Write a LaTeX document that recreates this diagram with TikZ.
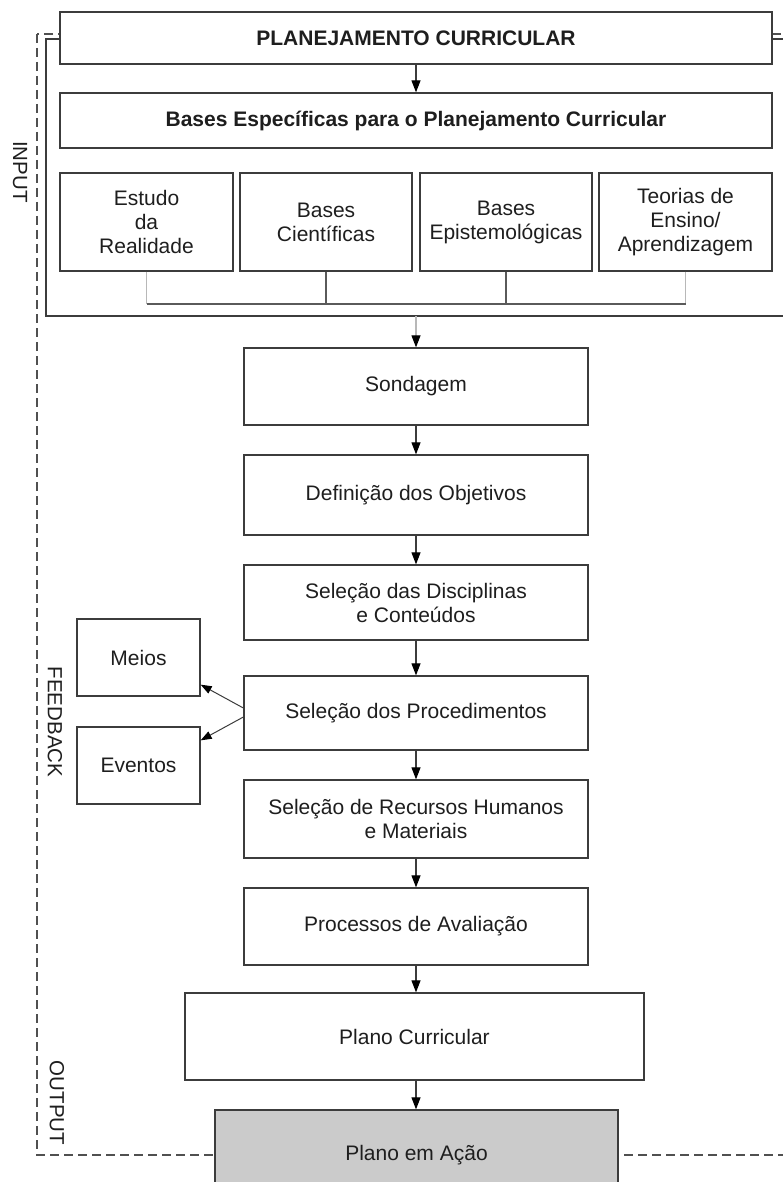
\documentclass[tikz,border=0pt]{standalone}
\usepackage{fontspec}
\setmainfont{Liberation Sans}
\usetikzlibrary{arrows.meta,calc}
\definecolor{edge}{HTML}{3C3C3C}
\definecolor{ink}{HTML}{1E1E1E}
\definecolor{lightline}{HTML}{B8B8B8}
\definecolor{midline}{HTML}{5A5A5A}
\definecolor{dashc}{HTML}{505050}
\definecolor{actfill}{HTML}{CBCBCB}

\begin{document}
\begin{tikzpicture}[x=1pt,y=-1pt,
  box/.style={draw=edge,line width=1.3pt,fill=white,align=center,text=ink,
    inner sep=0pt,font=\fontsize{21}{24}\selectfont},
  midbox/.style={box,minimum width=344pt},
  basebox/.style={box,minimum width=172pt,minimum height=98pt},
  sidebox/.style={box,minimum width=123pt,minimum height=77pt},
  flow/.style={draw=edge,line width=1.1pt,-{Triangle[width=9pt,length=12pt,color=black]}},
  faintflow/.style={draw=lightline,line width=1.1pt,-{Triangle[width=9pt,length=12pt,color=black]}},
  branch/.style={draw=edge,line width=1pt,-{Triangle[width=8pt,length=11pt,color=black]}},
  sidelabel/.style={rotate=-90,text=ink,inner sep=0pt,font=\fontsize{20.5}{24}\selectfont}]

\useasboundingbox (0,0) rectangle (783,1182);
\clip (0,0) rectangle (783,1182);

% feedback loop (dashed) and input frame (solid)
\coordinate (d1) at (37,34);
\coordinate (d2) at (800,1155);
\draw[dashc,line width=1.2pt,dash pattern=on 9pt off 5pt] (d1) rectangle (d2);
\coordinate (fr1) at (46,39);
\coordinate (fr2) at (800,316);
\draw[edge,line width=1.3pt] (fr1) rectangle (fr2);

% input block
\node[box,minimum width=712pt,minimum height=52pt] (top) at (416,38)
  {\bfseries PLANEJAMENTO CURRICULAR};
\node[box,minimum width=712pt,minimum height=55pt] (bases) at (416,120.5)
  {\bfseries Bases Específicas para o Planejamento Curricular};
\node[basebox,minimum width=173pt] (b1) at (146.5,222) {Estudo\\da\\Realidade};
\node[basebox] (b2) at (326,222) {Bases\\Científicas};
\node[basebox] (b3) at (506,222) {Bases\\Epistemológicas};
\node[basebox,minimum width=173pt] (b4) at (685.5,222) {Teorias de\\Ensino/\\Aprendizagem};

\draw[flow] (top) -- (bases);

% joining the four bases
\coordinate (j) at (416,304);
\draw[lightline,line width=1pt] (b1.south) -- (b1.south |- j);
\draw[lightline,line width=1pt] (b4.south) -- (b4.south |- j);
\draw[midline,line width=1.1pt] (b1.south |- j) -- (b4.south |- j);
\draw[midline,line width=1.1pt] (b2.south) -- (b2.south |- j);
\draw[midline,line width=1.1pt] (b3.south) -- (b3.south |- j);

% planning steps
\node[midbox,minimum height=77pt] (sond) at (416,386.5) {Sondagem};
\node[midbox,minimum height=80pt] (def) at (416,495) {Definição dos Objetivos};
\node[midbox,minimum height=75pt] (disc) at (416,602.5) {Seleção das Disciplinas\\e Conteúdos};
\node[midbox,minimum height=74pt] (proc) at (416,713) {Seleção dos Procedimentos};
\node[midbox,minimum height=78pt] (rec) at (416,819) {Seleção de Recursos Humanos\\e Materiais};
\node[midbox,minimum height=77pt] (aval) at (416,926.5) {Processos de Avaliação};
\node[box,minimum width=459pt,minimum height=87pt] (plano) at (414.5,1036.5) {Plano Curricular};
\node[box,fill=actfill,minimum width=403pt,minimum height=90pt] (acao) at (416.5,1155) {Plano em Ação};

\node[sidebox] (meios) at (138.5,657.5) {Meios};
\node[sidebox] (eventos) at (138.5,765.5) {Eventos};

\draw[faintflow] (sond.north |- fr2) -- (sond.north);
\draw[flow] (sond) -- (def);
\draw[flow] (def) -- (disc);
\draw[flow] (disc) -- (proc);
\draw[flow] (proc) -- (rec);
\draw[flow] (rec) -- (aval);
\draw[flow] (aval.south) -- (aval.south |- plano.north);
\coordinate (pc) at (plano.south -| aval.south);
\coordinate (pa) at (acao.north -| aval.south);
\draw[flow] (pc) -- (pa);

\draw[branch] ($(proc.west)+(0,-5)$) -- ($(meios.south east)+(0,-12)$);
\draw[branch] ($(proc.west)+(0,4)$) -- ($(eventos.north east)+(0,14)$);

% phase labels
\node[sidelabel] (lin) at (20,172) {INPUT};
\node[sidelabel] (lfb) at (55,722) {FEEDBACK};
\node[sidelabel] (lout) at (57,1103) {OUTPUT};
\end{tikzpicture}
\end{document}
